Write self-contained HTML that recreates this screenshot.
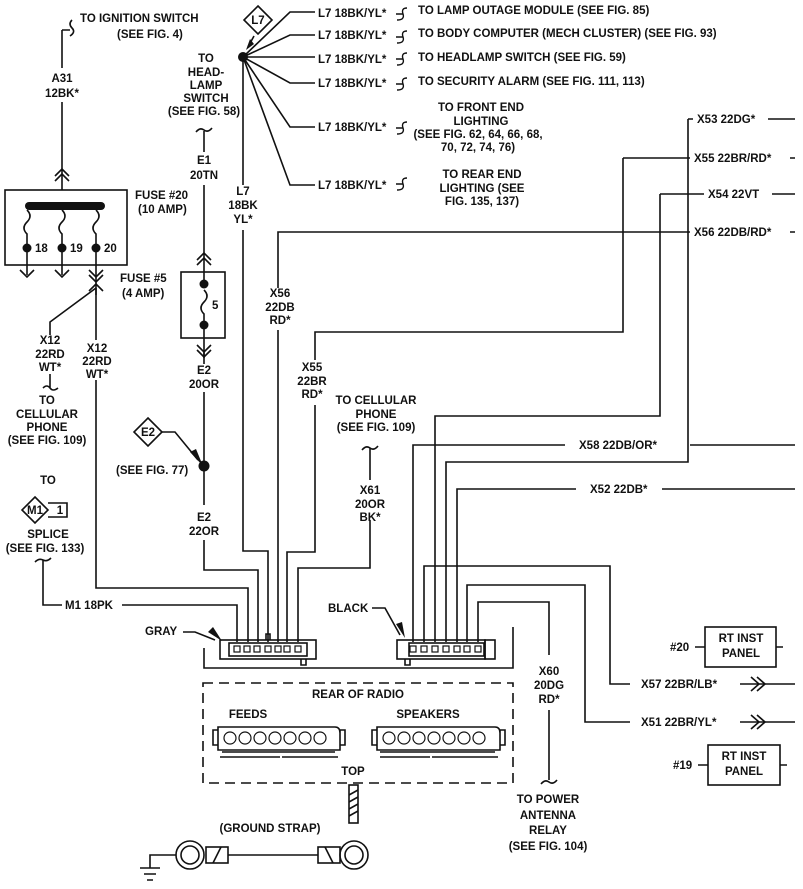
<!DOCTYPE html>
<html><head><meta charset="utf-8"><style>
html,body{margin:0;padding:0;background:#fff}
svg{display:block}
text{font-family:"Liberation Sans",Arial,sans-serif;font-size:11.5px;font-weight:bold;fill:#111}
</style></head><body>
<svg width="803" height="889" viewBox="0 0 803 889" xmlns="http://www.w3.org/2000/svg">
<g fill="none" stroke="#111" stroke-width="1.6">
<!-- A31 -->
<path d="M62 30 H70 M72 20 q-4 4 0 8 q4 4 -2 8 M62 30 V68 M62 102 V190"/>
<path d="M55 176 L62 169 L69 176 M55 181 L62 174 L69 181"/>
<!-- fuse box 20 -->
<rect x="5" y="190" width="122" height="75"/>
<line x1="29" y1="206" x2="101" y2="206" stroke-width="8" stroke-linecap="round"/>
<path d="M27 210 q6 6 0 12 q-6 6 0 12 V248 M62 210 q6 6 0 12 q-6 6 0 12 V248 M96 210 q6 6 0 12 q-6 6 0 12 V248"/>
<path d="M27 248 V275 M62 248 V275 M96 248 V295"/>
<path d="M20 270 L27 277 L34 270 M55 270 L62 277 L69 270 M89 270 L96 277 L103 270 M89 275 L96 282 L103 275"/>
<path d="M89 291 L96 284 L103 291"/>
<path d="M96 288 L50 322 V335 M96 288 V340 M96 380 V588 H248 V642"/>
<path d="M50 374 V388 M43 388 q4 -4 7 0 q3 4 8 0"/>
<!-- E1 / fuse 5 -->
<path d="M196 132 q4 -5 8 -2 q4 3 8 -2 M204 131 V152 M204 185 V272"/>
<path d="M197 260 L204 253 L211 260 M197 265 L204 258 L211 265"/>
<rect x="181" y="272" width="44" height="66"/>
<path d="M204 272 V284 M204 290 q6 6 0 12 q-6 6 0 12 V325 M204 325 V338 V358"/>
<path d="M197 345 L204 352 L211 345 M197 350 L204 357 L211 350 M204 352 V364"/>
<path d="M204 392 V505 M204 540 V570 H258 V642"/>
<path d="M161 432 H175 L198 460"/>
<path d="M148 418 L162 432 L148 446 L134 432 Z"/>
<!-- L7 -->
<path d="M243 57 V185 M243 230 V551 H268 V642"/>
<path d="M243 57 L290 12 H315 M243 57 L290 35 H315 M243 57 H315 M243 57 L290 83 H315 M243 57 L290 127 H315 M243 57 L290 185 H315"/>
<path d="M258 6 L272 20 L258 34 L244 20 Z"/>
<path d="M254 36 L248 47"/>
<!-- X56 / X55 / X61 -->
<path d="M795 232 H790 M690 232 H278 V288 M278 330 V642"/>
<path d="M623 158 V332 H315 V360 M315 405 V552 H287 V642"/>
<path d="M362 450 q4 -5 8 -2 q4 3 8 -2 M370 448 V480 M370 520 V568 H298 V642"/>
<!-- right side wires -->
<path d="M688 119 H693 M768 119 H795 M688 119 V462 H446 V642"/>
<path d="M623 158 H690 M790 158 H795"/>
<path d="M660 194 H704 M772 194 H795 M660 194 V416 H435 V642"/>
<path d="M795 445 H690 M565 445 H413 V642"/>
<path d="M795 489 H662 M576 489 H457 V642"/>
<path d="M424 642 V566 H610 V684 H630 M740 684 H795"/>
<path d="M467 642 V585 H585 V722 H630 M740 722 H795"/>
<path d="M751 677 L759 684 L751 691 M757 677 L765 684 L757 691"/>
<path d="M751 715 L759 722 L751 729 M757 715 L765 722 L757 729"/>
<path d="M478 642 V602 H549 V655 M549 710 V780 M541 784 q4 -5 8 -2 q4 3 8 -2"/>
<!-- M1 -->
<path d="M35 562 q4 -4 8 -2 q4 2 8 -2 M43 560 V605 H62 M122 605 H237 V642"/>
<path d="M35 497 L48 510 L35 523 L22 510 Z"/>
<path d="M48 503 H67 V517 H48"/>
<!-- connectors -->
<rect x="220" y="640" width="96" height="19"/>
<rect x="229" y="643" width="78" height="13"/>
<path d="M301 659 V665 H306 V659 M266 640 V634 H270 V640"/>
<path d="M204 648 V668 H513 V627"/>
<rect x="397" y="640" width="88" height="19"/>
<rect x="485" y="640" width="10" height="19"/>
<rect x="409" y="643" width="75" height="13"/>
<path d="M405 659 V665 H410 V659"/>
<path d="M183 632 H195 L215 640 M372 608 H385 L400 635"/>
<!-- rt inst -->
<rect x="705" y="627" width="71" height="40"/>
<path d="M695 647 H705 M776 647 H783"/>
<rect x="708" y="745" width="72" height="40"/>
<path d="M698 765 H708 M780 765 H787"/>
<!-- dashed box -->
<rect x="203" y="683" width="310" height="100" stroke-dasharray="10,6"/>
<!-- feeds/speakers -->
<path d="M218 727 H335 q5 0 5 6 V750 H218 Z M213 730 H218 V745 H213 Z M340 730 H345 V745 H340 Z M222 752 H335 M220 757 H280 M282 757 H338"/>
<path d="M377 727 H495 q5 0 5 6 V750 H377 Z M372 730 H377 V745 H372 Z M500 730 H505 V745 H500 Z M380 752 H495 M380 757 H430 M432 757 H498"/>
<!-- screw -->
<rect x="349" y="785" width="9" height="38"/>
<path d="M349 795 L358 790 M349 802 L358 797 M349 809 L358 804 M349 816 L358 811"/>
<!-- ground strap -->
<circle cx="190" cy="855" r="14"/><circle cx="190" cy="855" r="9"/>
<rect x="206" y="847" width="22" height="16"/><path d="M213 863 L221 847"/>
<path d="M228 855 H318"/>
<rect x="318" y="847" width="22" height="16"/><path d="M325 847 L333 863"/>
<circle cx="354" cy="855" r="14"/><circle cx="354" cy="855" r="9"/>
<path d="M176 855 H150 V868 M140 868 H160 M144 874 H156 M147 880 H153"/>
</g>
<g fill="#111">
<circle cx="243" cy="57" r="5"/>
<circle cx="204" cy="466" r="5.5"/>
<circle cx="204" cy="284" r="4.5"/><circle cx="204" cy="325" r="4.5"/>
<circle cx="27" cy="248" r="4.5"/><circle cx="62" cy="248" r="4.5"/><circle cx="96" cy="248" r="4.5"/>
<path d="M246 50 L250 39 L254 44 Z"/>
<path d="M203 466 L190 452 L196 449 Z"/>
<path d="M222 641 L208 632 L213 627 Z"/>
<path d="M405 638 L396 624 L402 622 Z"/>
</g>
<g fill="#fff" stroke="#111" stroke-width="1.2">
<rect x="234" y="646" width="6" height="6"/><rect x="244" y="646" width="6" height="6"/><rect x="254" y="646" width="6" height="6"/><rect x="265" y="646" width="6" height="6"/><rect x="275" y="646" width="6" height="6"/><rect x="284" y="646" width="6" height="6"/><rect x="295" y="646" width="6" height="6"/>
<rect x="410" y="646" width="6" height="6"/><rect x="421" y="646" width="6" height="6"/><rect x="432" y="646" width="6" height="6"/><rect x="443" y="646" width="6" height="6"/><rect x="454" y="646" width="6" height="6"/><rect x="464" y="646" width="6" height="6"/><rect x="475" y="646" width="6" height="6"/>
<circle cx="230" cy="738" r="6"/><circle cx="245" cy="738" r="6"/><circle cx="260" cy="738" r="6"/><circle cx="275" cy="738" r="6"/><circle cx="290" cy="738" r="6"/><circle cx="305" cy="738" r="6"/><circle cx="320" cy="738" r="6"/>
<circle cx="389" cy="738" r="6"/><circle cx="404" cy="738" r="6"/><circle cx="419" cy="738" r="6"/><circle cx="434" cy="738" r="6"/><circle cx="449" cy="738" r="6"/><circle cx="464" cy="738" r="6"/><circle cx="479" cy="738" r="6"/>
</g>
<g fill="none" stroke="#111" stroke-width="1.4">
<path d="M407 8 q-6 0 -4 6 q2 6 -6 6 M407 31 q-6 0 -4 6 q2 6 -6 6 M407 53 q-6 0 -4 6 q2 6 -6 6 M407 78 q-6 0 -4 6 q2 6 -6 6 M407 122 q-6 0 -4 6 q2 6 -6 6 M407 178 q-6 0 -4 6 q2 6 -6 6"/>
<path d="M396 14 H403 M396 37 H403 M396 59 H403 M396 84 H403 M396 128 H403 M396 184 H403"/>
</g>
<g>
<text x="80" y="22">TO IGNITION SWITCH</text>
<text x="117" y="38">(SEE FIG. 4)</text>
<text x="62" y="82" text-anchor="middle">A31</text>
<text x="62" y="97" text-anchor="middle">12BK*</text>
<text x="206" y="62" text-anchor="middle">TO</text>
<text x="206" y="76" text-anchor="middle">HEAD-</text>
<text x="206" y="89" text-anchor="middle">LAMP</text>
<text x="206" y="102" text-anchor="middle">SWITCH</text>
<text x="204" y="115" text-anchor="middle">(SEE FIG. 58)</text>
<text x="204" y="164" text-anchor="middle">E1</text>
<text x="204" y="179" text-anchor="middle">20TN</text>
<text x="243" y="195" text-anchor="middle">L7</text>
<text x="243" y="209" text-anchor="middle">18BK</text>
<text x="243" y="223" text-anchor="middle">YL*</text>
<text x="258" y="24" text-anchor="middle" font-size="10">L7</text>
<text x="318" y="17">L7 18BK/YL*</text><text x="418" y="14">TO LAMP OUTAGE MODULE (SEE FIG. 85)</text>
<text x="318" y="39">L7 18BK/YL*</text><text x="418" y="37">TO BODY COMPUTER (MECH CLUSTER) (SEE FIG. 93)</text>
<text x="318" y="63">L7 18BK/YL*</text><text x="418" y="61">TO HEADLAMP SWITCH (SEE FIG. 59)</text>
<text x="318" y="87">L7 18BK/YL*</text><text x="418" y="85">TO SECURITY ALARM (SEE FIG. 111, 113)</text>
<text x="318" y="131">L7 18BK/YL*</text>
<text x="481" y="111" text-anchor="middle">TO FRONT END</text>
<text x="481" y="125" text-anchor="middle">LIGHTING</text>
<text x="478" y="138" text-anchor="middle">(SEE FIG. 62, 64, 66, 68,</text>
<text x="478" y="151" text-anchor="middle">70, 72, 74, 76)</text>
<text x="318" y="189">L7 18BK/YL*</text>
<text x="482" y="178" text-anchor="middle">TO REAR END</text>
<text x="482" y="192" text-anchor="middle">LIGHTING (SEE</text>
<text x="482" y="205" text-anchor="middle">FIG. 135, 137)</text>
<text x="135" y="199">FUSE #20</text>
<text x="138" y="213">(10 AMP)</text>
<text x="120" y="282">FUSE #5</text>
<text x="122" y="297">(4 AMP)</text>
<text x="35" y="252" font-size="11">18</text><text x="70" y="252" font-size="11">19</text><text x="104" y="252" font-size="11">20</text>
<text x="212" y="309" font-size="11">5</text>
<text x="50" y="344" text-anchor="middle">X12</text><text x="50" y="358" text-anchor="middle">22RD</text><text x="50" y="371" text-anchor="middle">WT*</text>
<text x="97" y="352" text-anchor="middle">X12</text><text x="97" y="365" text-anchor="middle">22RD</text><text x="97" y="378" text-anchor="middle">WT*</text>
<text x="47" y="404" text-anchor="middle">TO</text>
<text x="47" y="418" text-anchor="middle">CELLULAR</text>
<text x="47" y="431" text-anchor="middle">PHONE</text>
<text x="47" y="444" text-anchor="middle">(SEE FIG. 109)</text>
<text x="204" y="374" text-anchor="middle">E2</text><text x="204" y="388" text-anchor="middle">20OR</text>
<text x="148" y="436" text-anchor="middle" font-size="10">E2</text>
<text x="116" y="474">(SEE FIG. 77)</text>
<text x="204" y="521" text-anchor="middle">E2</text><text x="204" y="535" text-anchor="middle">22OR</text>
<text x="48" y="484" text-anchor="middle">TO</text>
<text x="35" y="514" text-anchor="middle" font-size="10">M1</text>
<text x="60" y="514" text-anchor="middle" font-size="10">1</text>
<text x="48" y="538" text-anchor="middle">SPLICE</text>
<text x="45" y="552" text-anchor="middle">(SEE FIG. 133)</text>
<text x="65" y="609">M1 18PK</text>
<text x="145" y="635">GRAY</text>
<text x="328" y="612">BLACK</text>
<text x="280" y="297" text-anchor="middle">X56</text><text x="280" y="311" text-anchor="middle">22DB</text><text x="280" y="324" text-anchor="middle">RD*</text>
<text x="312" y="371" text-anchor="middle">X55</text><text x="312" y="385" text-anchor="middle">22BR</text><text x="312" y="398" text-anchor="middle">RD*</text>
<text x="376" y="404" text-anchor="middle">TO CELLULAR</text>
<text x="376" y="418" text-anchor="middle">PHONE</text>
<text x="376" y="431" text-anchor="middle">(SEE FIG. 109)</text>
<text x="370" y="494" text-anchor="middle">X61</text><text x="370" y="508" text-anchor="middle">20OR</text><text x="370" y="521" text-anchor="middle">BK*</text>
<text x="697" y="123">X53 22DG*</text>
<text x="694" y="162">X55 22BR/RD*</text>
<text x="708" y="198">X54 22VT</text>
<text x="694" y="236">X56 22DB/RD*</text>
<text x="579" y="449">X58 22DB/OR*</text>
<text x="590" y="493">X52 22DB*</text>
<text x="741" y="642" text-anchor="middle">RT INST</text><text x="741" y="657" text-anchor="middle">PANEL</text>
<text x="670" y="651">#20</text>
<text x="744" y="760" text-anchor="middle">RT INST</text><text x="744" y="775" text-anchor="middle">PANEL</text>
<text x="673" y="769">#19</text>
<text x="641" y="688">X57 22BR/LB*</text>
<text x="641" y="726">X51 22BR/YL*</text>
<text x="549" y="675" text-anchor="middle">X60</text><text x="549" y="689" text-anchor="middle">20DG</text><text x="549" y="703" text-anchor="middle">RD*</text>
<text x="358" y="698" text-anchor="middle">REAR OF RADIO</text>
<text x="248" y="718" text-anchor="middle">FEEDS</text>
<text x="428" y="718" text-anchor="middle">SPEAKERS</text>
<text x="353" y="775" text-anchor="middle">TOP</text>
<text x="270" y="832" text-anchor="middle">(GROUND STRAP)</text>
<text x="548" y="803" text-anchor="middle">TO POWER</text>
<text x="548" y="819" text-anchor="middle">ANTENNA</text>
<text x="548" y="834" text-anchor="middle">RELAY</text>
<text x="548" y="850" text-anchor="middle">(SEE FIG. 104)</text>
</g>
</svg>
</body></html>
